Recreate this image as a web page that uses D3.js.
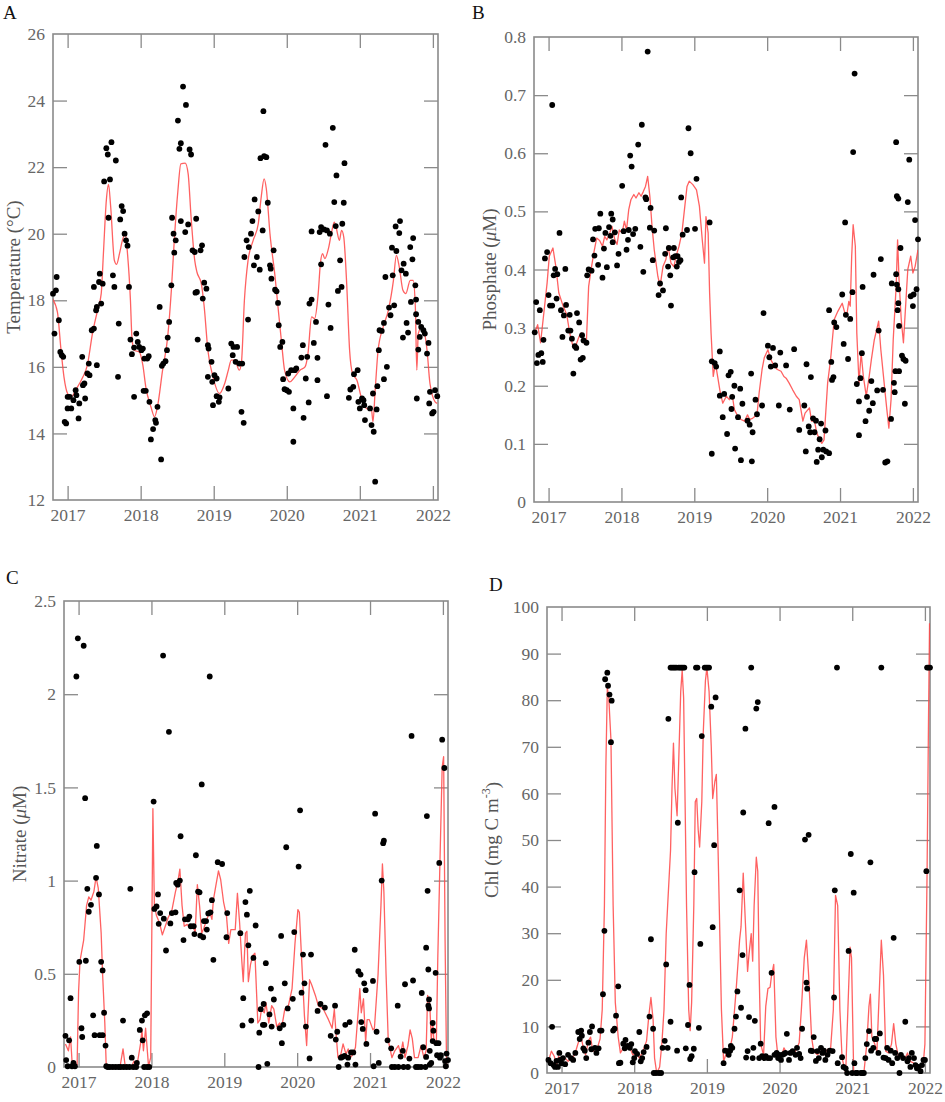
<!DOCTYPE html>
<html>
<head>
<meta charset="utf-8">
<script src="https://cdn.jsdelivr.net/npm/d3@7"></script>
<style>
  body { margin: 0; background: #fff; }
  svg { display: block; font-family: "Liberation Serif", "Times New Roman", serif; }
  .tick text { fill: #666; font-size: 17.5px; font-family: "Liberation Serif", serif; }
  .tick line { stroke: #8a8a8a; stroke-width: 1.3; }
</style>
</head>
<body>
<svg id="chart" width="945" height="1102"></svg>
<script>
// time axis (decimal years)
const yearTicks = [2017, 2018, 2019, 2020, 2021, 2022];
const xDomain = [2016.80, 2022.07];

// A: temperature samples and smoothed curve
const tempPts = [
  [2016.80,18.2],[2016.84,18.3],[2016.85,18.7],[2016.82,17.0],[2016.88,17.4],[2016.90,16.45],[2016.92,16.35],[2016.94,16.3],
  [2016.96,14.35],[2016.98,14.3],[2017.00,15.1],[2017.00,14.75],[2017.03,15.1],[2017.05,14.75],[2017.08,15.0],[2017.11,15.3],
  [2017.12,15.15],[2017.15,14.45],[2017.16,14.9],[2017.20,16.3],[2017.21,15.45],[2017.23,15.5],[2017.24,15.05],[2017.27,15.8],
  [2017.29,16.1],[2017.30,15.75],[2017.33,17.1],[2017.36,17.15],[2017.36,18.4],[2017.39,17.7],[2017.40,17.8],[2017.40,16.05],
  [2017.43,18.55],[2017.44,18.8],[2017.46,17.9],[2017.48,18.5],[2017.50,21.57],[2017.53,22.57],[2017.55,22.38],[2017.58,21.63],
  [2017.56,20.48],[2017.60,22.75],[2017.62,18.75],[2017.64,18.4],[2017.66,22.2],[2017.69,15.7],[2017.70,17.3],[2017.72,20.43],
  [2017.74,20.83],[2017.76,20.68],[2017.78,20.0],[2017.80,19.8],[2017.82,19.64],[2017.84,18.4],[2017.86,16.82],[2017.88,16.38],
  [2017.91,16.58],[2017.91,15.1],[2017.94,17.0],[2017.96,16.75],[2017.98,16.6],[2018.01,16.5],[2018.03,16.55],[2018.05,16.25],
  [2018.04,15.28],[2018.07,15.28],[2018.09,16.25],[2018.11,16.32],[2018.12,14.95],[2018.14,13.82],[2018.17,14.13],[2018.20,14.4],
  [2018.21,14.32],[2018.23,14.8],[2018.26,17.8],[2018.28,13.22],[2018.29,16.03],[2018.31,16.1],[2018.34,16.17],[2018.36,16.5],
  [2018.37,16.88],[2018.39,17.35],[2018.42,18.45],[2018.43,20.48],[2018.45,20.0],[2018.46,19.43],[2018.48,19.8],[2018.51,23.4],
  [2018.53,22.55],[2018.55,22.72],[2018.55,20.38],[2018.58,24.42],[2018.62,23.87],[2018.61,20.05],[2018.65,20.28],[2018.67,22.53],
  [2018.69,22.38],[2018.71,19.5],[2018.74,19.45],[2018.75,18.23],[2018.77,18.25],[2018.76,20.45],[2018.78,16.82],[2018.82,19.5],
  [2018.84,19.65],[2018.85,18.05],[2018.87,18.53],[2018.90,18.35],[2018.92,16.65],[2018.93,16.55],[2018.92,15.7],[2018.97,16.15],
  [2018.98,15.55],[2018.99,14.85],[2019.01,15.75],[2019.04,15.65],[2019.04,15.12],[2019.07,14.95],[2019.08,15.08],[2019.20,15.35],
  [2019.24,16.7],[2019.26,16.35],[2019.27,16.6],[2019.30,16.15],[2019.32,16.6],[2019.35,16.1],[2019.39,16.1],[2019.38,14.65],
  [2019.41,14.32],[2019.42,19.3],[2019.45,19.8],[2019.47,17.42],[2019.48,19.6],[2019.51,20.0],[2019.53,20.38],[2019.55,19.05],
  [2019.56,21.03],[2019.59,19.3],[2019.61,20.67],[2019.63,18.92],[2019.64,22.27],[2019.67,20.1],[2019.68,23.68],[2019.69,22.33],
  [2019.72,22.3],[2019.74,20.93],[2019.77,19.05],[2019.78,18.95],[2019.79,18.65],[2019.82,19.5],[2019.84,18.32],[2019.86,18.27],
  [2019.88,17.92],[2019.89,17.25],[2019.91,16.6],[2019.94,16.75],[2019.95,15.63],[2019.97,15.33],[2020.00,15.3],[2020.03,15.25],
  [2020.02,15.8],[2020.06,15.9],[2020.09,14.75],[2020.11,15.9],[2020.13,15.95],[2020.09,13.75],[2020.20,16.28],[2020.22,16.65],
  [2020.23,14.47],[2020.26,15.65],[2020.28,16.3],[2020.30,14.93],[2020.31,17.9],[2020.34,18.02],[2020.34,20.07],[2020.37,16.72],
  [2020.40,17.35],[2020.42,16.27],[2020.42,15.6],[2020.45,20.05],[2020.47,20.2],[2020.51,20.13],[2020.55,20.1],[2020.59,20.0],
  [2020.47,19.08],[2020.53,22.67],[2020.55,15.12],[2020.57,17.87],[2020.60,17.17],[2020.63,23.18],[2020.65,20.95],[2020.67,20.23],
  [2020.68,21.75],[2020.70,18.28],[2020.73,19.2],[2020.75,18.4],[2020.76,20.3],[2020.78,20.93],[2020.79,22.12],[2020.85,15.07],
  [2020.87,15.32],[2020.91,15.4],[2020.92,15.78],[2020.97,15.9],[2020.98,14.95],[2021.00,14.75],[2021.03,15.05],[2021.05,15.0],
  [2021.06,14.85],[2021.07,14.4],[2021.14,14.75],[2021.16,14.25],[2021.18,15.2],[2021.19,14.05],[2021.21,12.55],[2021.23,14.72],
  [2021.24,15.42],[2021.26,16.5],[2021.27,17.1],[2021.30,17.08],[2021.33,17.32],[2021.33,15.63],[2021.35,18.7],[2021.37,16.0],
  [2021.40,17.78],[2021.42,17.55],[2021.44,19.58],[2021.45,18.75],[2021.47,17.85],[2021.49,20.22],[2021.50,19.48],[2021.54,20.02],
  [2021.55,20.38],[2021.57,18.9],[2021.59,16.88],[2021.60,19.1],[2021.63,18.8],[2021.64,17.32],[2021.66,17.03],[2021.69,19.6],
  [2021.70,17.95],[2021.72,19.23],[2021.73,19.87],[2021.76,18.45],[2021.77,18.02],[2021.77,17.58],[2021.78,15.05],[2021.80,16.52],
  [2021.80,17.35],[2021.82,16.9],[2021.84,17.2],[2021.87,17.1],[2021.89,17.0],[2021.92,16.4],[2021.94,16.72],[2021.96,15.25],
  [2021.95,14.9],[2021.99,14.6],[2022.01,14.65],[2022.03,15.3],[2022.06,15.12]
];
const tempLine = [
  [2016.79,18.05],[2016.86,17.65],[2016.91,16.5],[2016.95,15.7],[2017.00,15.2],[2017.05,15.1],[2017.11,15.3],[2017.21,15.7],
  [2017.27,16.05],[2017.34,17.0],[2017.41,17.7],[2017.46,18.2],[2017.49,19.4],[2017.53,21.0],[2017.56,21.48],[2017.59,20.8],
  [2017.64,19.2],[2017.67,19.08],[2017.71,19.4],[2017.75,19.8],[2017.79,20.0],[2017.82,19.4],[2017.86,18.0],[2017.88,16.9],
  [2017.91,16.5],[2017.98,16.45],[2018.03,16.05],[2018.07,15.4],[2018.14,14.8],[2018.19,14.5],[2018.23,14.8],[2018.30,15.9],
  [2018.37,16.9],[2018.42,18.3],[2018.46,19.8],[2018.51,21.3],[2018.55,22.1],[2018.61,22.12],[2018.65,21.8],[2018.69,20.5],
  [2018.74,19.2],[2018.77,18.85],[2018.83,18.5],[2018.87,17.8],[2018.92,16.5],[2018.99,15.7],[2019.08,15.2],[2019.15,15.5],
  [2019.20,15.9],[2019.24,16.2],[2019.29,16.2],[2019.35,15.9],[2019.38,16.15],[2019.42,18.0],[2019.47,19.2],[2019.54,19.8],
  [2019.61,20.3],[2019.65,21.1],[2019.69,21.65],[2019.72,21.35],[2019.77,20.0],[2019.84,18.7],[2019.88,17.8],[2019.93,16.7],
  [2019.97,15.9],[2020.04,15.55],[2020.11,15.7],[2020.18,15.9],[2020.25,16.0],[2020.29,16.4],[2020.34,17.5],[2020.38,17.45],
  [2020.43,18.2],[2020.46,19.1],[2020.49,19.4],[2020.52,19.25],[2020.57,19.55],[2020.61,20.0],[2020.65,20.35],[2020.68,20.15],
  [2020.72,19.8],[2020.75,20.1],[2020.78,19.9],[2020.82,18.5],[2020.86,16.5],[2020.90,15.8],[2020.96,15.6],[2021.03,15.0],
  [2021.09,14.75],[2021.16,14.7],[2021.18,14.35],[2021.21,15.3],[2021.25,16.5],[2021.32,17.2],[2021.39,17.7],[2021.46,18.6],
  [2021.50,19.35],[2021.54,19.0],[2021.59,18.3],[2021.63,18.2],[2021.69,18.6],[2021.73,18.6],[2021.76,17.8],[2021.78,15.9],
  [2021.80,17.0],[2021.85,17.2],[2021.92,16.5],[2021.96,15.5],[2022.03,14.95],[2022.06,14.9]
];

// B: phosphate
const phosPts = [
  [2016.81,0.292],[2016.83,0.344],[2016.84,0.239],[2016.88,0.33],[2016.86,0.253],[2016.90,0.256],[2016.92,0.241],[2016.93,0.279],
  [2016.95,0.419],[2016.98,0.43],[2017.00,0.356],[2017.02,0.338],[2017.05,0.338],[2017.05,0.683],[2017.07,0.39],[2017.09,0.401],
  [2017.12,0.392],[2017.11,0.35],[2017.15,0.463],[2017.17,0.33],[2017.19,0.284],[2017.21,0.321],[2017.23,0.401],[2017.24,0.339],
  [2017.27,0.295],[2017.29,0.322],[2017.30,0.295],[2017.32,0.281],[2017.34,0.221],[2017.36,0.268],[2017.38,0.265],[2017.39,0.325],
  [2017.42,0.309],[2017.44,0.245],[2017.47,0.248],[2017.46,0.287],[2017.48,0.278],[2017.52,0.274],[2017.53,0.39],[2017.55,0.4],
  [2017.59,0.398],[2017.61,0.452],[2017.63,0.424],[2017.64,0.47],[2017.68,0.408],[2017.69,0.471],[2017.71,0.496],[2017.74,0.386],
  [2017.76,0.436],[2017.78,0.463],[2017.80,0.404],[2017.83,0.473],[2017.85,0.458],[2017.86,0.496],[2017.88,0.486],[2017.88,0.447],
  [2017.91,0.464],[2017.94,0.407],[2017.96,0.427],[2018.01,0.544],[2018.03,0.466],[2018.07,0.434],[2018.09,0.451],[2018.10,0.468],
  [2018.12,0.596],[2018.14,0.577],[2018.16,0.461],[2018.19,0.47],[2018.23,0.615],[2018.26,0.439],[2018.28,0.649],[2018.30,0.396],
  [2018.33,0.524],[2018.34,0.521],[2018.36,0.775],[2018.39,0.472],[2018.40,0.506],[2018.43,0.416],[2018.45,0.467],[2018.51,0.356],
  [2018.53,0.376],[2018.57,0.364],[2018.60,0.427],[2018.61,0.471],[2018.64,0.405],[2018.65,0.437],[2018.67,0.39],[2018.68,0.338],
  [2018.71,0.421],[2018.72,0.437],[2018.74,0.423],[2018.76,0.405],[2018.77,0.423],[2018.79,0.413],[2018.81,0.416],[2018.82,0.524],
  [2018.84,0.46],[2018.90,0.468],[2018.92,0.643],[2018.95,0.6],[2019.01,0.47],[2019.03,0.556],
  [2019.21,0.481],[2019.24,0.083],[2019.24,0.242],[2019.28,0.239],[2019.30,0.233],[2019.35,0.259],[2019.35,0.183],[2019.41,0.186],
  [2019.39,0.146],[2019.45,0.117],[2019.47,0.218],[2019.50,0.224],[2019.52,0.181],[2019.51,0.16],[2019.55,0.2],[2019.56,0.092],
  [2019.60,0.146],[2019.63,0.195],[2019.64,0.072],[2019.66,0.169],[2019.73,0.14],[2019.76,0.133],[2019.78,0.221],[2019.80,0.12],
  [2019.79,0.07],[2019.84,0.176],[2019.86,0.151],[2019.93,0.166],[2019.95,0.325],[2020.01,0.269],[2020.03,0.249],[2020.05,0.233],
  [2020.08,0.265],[2020.11,0.235],[2020.16,0.166],[2020.18,0.257],[2020.26,0.235],[2020.31,0.159],[2020.37,0.263],[2020.44,0.124],
  [2020.51,0.166],[2020.53,0.087],[2020.54,0.237],[2020.57,0.13],[2020.59,0.12],[2020.60,0.215],[2020.63,0.144],[2020.65,0.12],
  [2020.67,0.14],[2020.68,0.069],[2020.70,0.09],[2020.72,0.108],[2020.74,0.135],[2020.75,0.077],[2020.77,0.09],[2020.80,0.123],
  [2020.81,0.087],[2020.85,0.084],[2020.85,0.33],[2020.88,0.241],[2020.89,0.21],[2020.91,0.215],[2020.92,0.309],[2020.95,0.301],
  [2021.03,0.357],[2021.05,0.272],[2021.07,0.481],[2021.08,0.322],[2021.11,0.246],[2021.14,0.315],[2021.17,0.361],[2021.18,0.602],
  [2021.20,0.737],[2021.23,0.203],[2021.26,0.173],[2021.26,0.115],[2021.28,0.213],[2021.30,0.256],[2021.31,0.37],[2021.35,0.139],
  [2021.37,0.181],[2021.40,0.157],[2021.43,0.208],[2021.45,0.17],[2021.46,0.391],[2021.51,0.192],[2021.53,0.295],[2021.56,0.418],
  [2021.59,0.193],[2021.62,0.068],[2021.65,0.07],[2021.70,0.143],[2021.71,0.376],[2021.74,0.205],[2021.75,0.189],[2021.76,0.225],
  [2021.77,0.619],[2021.77,0.392],[2021.78,0.374],[2021.78,0.526],[2021.80,0.522],[2021.79,0.33],[2021.80,0.366],[2021.80,0.342],
  [2021.81,0.303],[2021.81,0.225],[2021.83,0.437],[2021.85,0.252],[2021.87,0.246],[2021.89,0.169],[2021.90,0.243],[2021.93,0.516],
  [2021.95,0.589],[2021.97,0.354],[2022.00,0.337],[2022.01,0.357],[2022.03,0.485],[2022.05,0.366],[2022.07,0.452]
];
const phosLine = [
  [2016.81,0.291],[2016.85,0.305],[2016.89,0.274],[2016.92,0.308],[2016.98,0.377],[2017.01,0.423],[2017.06,0.437],[2017.10,0.405],
  [2017.14,0.36],[2017.20,0.337],[2017.25,0.322],[2017.29,0.291],[2017.33,0.27],[2017.37,0.268],[2017.42,0.285],[2017.45,0.291],
  [2017.48,0.274],[2017.52,0.279],[2017.55,0.371],[2017.59,0.405],[2017.62,0.428],[2017.66,0.454],[2017.70,0.45],[2017.74,0.44],
  [2017.77,0.457],[2017.80,0.451],[2017.84,0.463],[2017.87,0.474],[2017.91,0.451],[2017.94,0.443],[2017.97,0.468],[2018.01,0.463],
  [2018.04,0.483],[2018.07,0.468],[2018.10,0.503],[2018.13,0.52],[2018.17,0.529],[2018.20,0.523],[2018.24,0.532],[2018.27,0.526],
  [2018.30,0.534],[2018.33,0.543],[2018.36,0.56],[2018.39,0.526],[2018.42,0.474],[2018.45,0.434],[2018.50,0.388],[2018.53,0.371],
  [2018.57,0.405],[2018.61,0.417],[2018.64,0.44],[2018.68,0.411],[2018.72,0.405],[2018.75,0.423],[2018.79,0.44],[2018.83,0.463],
  [2018.87,0.509],[2018.90,0.543],[2018.93,0.552],[2018.98,0.546],[2019.03,0.537],[2019.07,0.509],[2019.11,0.45],[2019.14,0.411],
  [2019.16,0.491],[2019.19,0.463],[2019.21,0.36],[2019.23,0.291],[2019.26,0.216],[2019.29,0.239],[2019.32,0.216],[2019.35,0.193],
  [2019.39,0.17],[2019.44,0.182],[2019.48,0.176],[2019.52,0.185],[2019.55,0.159],[2019.60,0.147],[2019.64,0.142],[2019.69,0.139],
  [2019.73,0.15],[2019.76,0.142],[2019.80,0.144],[2019.86,0.15],[2019.89,0.188],[2019.93,0.228],[2019.96,0.248],[2020.01,0.262],
  [2020.05,0.245],[2020.10,0.233],[2020.14,0.228],[2020.19,0.225],[2020.23,0.216],[2020.26,0.213],[2020.30,0.205],[2020.35,0.193],
  [2020.40,0.182],[2020.44,0.176],[2020.49,0.139],[2020.52,0.153],[2020.58,0.162],[2020.61,0.139],[2020.65,0.139],[2020.68,0.119],
  [2020.72,0.107],[2020.75,0.101],[2020.78,0.107],[2020.83,0.205],[2020.87,0.245],[2020.92,0.314],[2020.97,0.328],[2021.03,0.342],
  [2021.06,0.328],[2021.09,0.319],[2021.12,0.345],[2021.14,0.337],[2021.16,0.423],[2021.18,0.477],[2021.21,0.44],[2021.23,0.291],
  [2021.26,0.205],[2021.29,0.256],[2021.32,0.216],[2021.36,0.182],[2021.40,0.216],[2021.43,0.245],[2021.47,0.279],[2021.53,0.311],
  [2021.56,0.262],[2021.61,0.199],[2021.64,0.162],[2021.67,0.127],[2021.70,0.176],[2021.73,0.279],[2021.77,0.371],[2021.79,0.451],
  [2021.81,0.382],[2021.84,0.314],[2021.87,0.274],[2021.90,0.337],[2021.93,0.4],[2021.97,0.423],[2022.00,0.394],[2022.03,0.405],
  [2022.07,0.434]
];

// C: nitrate
const nitPts = [
  [2016.82,0.167],[2016.83,0.037],[2016.85,0.004],[2016.87,0.143],[2016.89,0.369],[2016.91,0.004],[2016.93,0.022],[2016.95,0.004],
  [2016.97,2.095],[2016.99,2.3],[2017.07,2.26],[2017.01,0.564],[2017.04,0.208],[2017.05,0.161],[2017.09,1.442],[2017.10,0.57],
  [2017.12,0.956],[2017.14,0.833],[2017.17,0.87],[2017.20,0.277],[2017.22,0.171],[2017.24,1.015],[2017.25,1.186],[2017.28,0.926],
  [2017.29,0.171],[2017.31,0.564],[2017.33,0.518],[2017.33,0.171],[2017.35,0.291],[2017.37,0.115],[2017.38,0.004],
  [2017.40,0],[2017.43,0],[2017.47,0],[2017.51,0],[2017.55,0],[2017.58,0],[2017.62,0],[2017.66,0],[2017.70,0],[2017.75,0],[2017.79,0],
  [2017.61,0.249],[2017.71,0.956],[2017.73,0.05],[2017.80,0.022],[2017.84,0.199],[2017.87,0.249],[2017.88,0.143],[2017.91,0.277],
  [2017.94,0.288],[2017.90,0],[2017.94,0],[2017.97,0],[2018.03,1.424],[2018.04,0.848],[2018.07,0.861],[2018.09,0.926],
  [2018.10,0.768],[2018.12,0.826],[2018.16,2.207],[2018.17,0.796],[2018.20,0.625],[2018.24,1.798],[2018.26,0.77],[2018.28,0.826],
  [2018.33,0.83],[2018.34,0.987],[2018.36,0.978],[2018.39,1.0],[2018.40,1.238],[2018.44,0.681],[2018.46,0.792],[2018.50,0.792],
  [2018.52,0.807],[2018.54,0.755],[2018.58,0.755],[2018.59,0.713],[2018.61,1.136],[2018.64,0.941],[2018.66,0.937],[2018.67,0.705],
  [2018.69,1.516],[2018.71,0.696],[2018.72,0.783],[2018.75,0.783],[2018.76,0.737],[2018.78,0.824],[2018.81,0.83],[2018.83,0.895],
  [2018.85,0.575],[2018.80,2.095],[2018.91,1.099],[2018.97,1.089],[2019.03,0.696],[2019.04,0.826],
  [2019.22,0.718],[2019.25,0.223],[2019.26,0.369],[2019.29,0.885],[2019.31,0.817],[2019.33,0.653],[2019.35,0.945],[2019.37,0.249],
  [2019.40,0.585],[2019.43,0.759],[2019.47,0.0],[2019.48,0.184],[2019.50,0.31],[2019.53,0.226],[2019.54,0.338],[2019.55,0.226],
  [2019.57,0.557],[2019.59,0.017],[2019.62,0.282],[2019.64,0.421],[2019.65,0.217],[2019.68,0.362],[2019.76,0.208],[2019.78,0.703],
  [2019.79,0.128],[2019.81,0.226],[2019.83,0.449],[2019.85,1.179],[2019.87,0.314],[2019.94,0.366],[2019.96,0.724],[2020.02,1.075],
  [2020.04,1.377],[2020.06,0.399],[2020.08,0.603],[2020.10,0.449],[2020.12,0.217],[2020.17,0.046],[2020.19,0.603],[2020.28,0.301],
  [2020.32,0.338],[2020.38,0.319],[2020.46,0.167],[2020.52,0.329],[2020.53,0.147],[2020.55,0.189],[2020.57,0.0],[2020.60,0.05],
  [2020.62,0.054],[2020.65,0.059],[2020.66,0.226],[2020.69,0.013],[2020.70,0.05],[2020.72,0.241],[2020.74,0.078],[2020.77,0.078],
  [2020.79,0.629],[2020.80,0.013],[2020.84,0.514],[2020.87,0.496],[2020.88,0.241],[2020.90,0.204],[2020.92,0.449],[2020.94,0.412],
  [2020.95,0.124],[2021.04,0.462],[2021.05,0.004],[2021.07,1.359],[2021.09,0.189],[2021.12,0.022],[2021.16,1.0],[2021.18,1.201],
  [2021.19,1.214],[2021.24,0.143],[2021.29,0.1],[2021.30,0.0],[2021.34,0.0],[2021.38,0.329],[2021.39,0.0],[2021.42,0.056],
  [2021.45,0.087],[2021.46,0.0],[2021.48,0.444],[2021.52,0.0],[2021.54,0.045],[2021.57,1.776],[2021.59,0.464],[2021.63,0.0],
  [2021.66,0.0],[2021.70,0.0],[2021.71,0.397],[2021.73,0.106],[2021.76,0.0],[2021.77,0.64],[2021.77,0.054],[2021.78,1.346],
  [2021.79,0.945],[2021.80,0.523],[2021.80,0.329],[2021.81,0.314],[2021.81,0.362],[2021.82,0.087],[2021.82,0.013],[2021.84,0.022],
  [2021.86,0.236],[2021.86,0.139],[2021.87,0.195],[2021.90,0.505],[2021.91,0.128],[2021.94,0.128],[2021.95,1.095],[2021.92,0.063],
  [2021.96,0.05],[2021.97,0.063],[2021.99,1.756],[2022.02,1.604],[2022.03,0.032],[2022.04,0.004],[2022.05,0.072],[2022.07,0.037]
];
const nitLine = [
  [2016.82,0.124],[2016.86,0.087],[2016.89,0.161],[2016.91,0.032],[2016.93,0.013],[2016.95,0.004],[2016.98,0.013],[2017.00,0.403],
  [2017.02,0.57],[2017.07,0.681],[2017.11,0.867],[2017.14,0.913],[2017.17,0.895],[2017.21,0.941],[2017.24,1.019],[2017.27,0.96],
  [2017.31,0.718],[2017.33,0.496],[2017.36,0.236],[2017.38,0.004],[2017.57,0.004],[2017.61,0.097],[2017.64,0.004],[2017.73,0.004],
  [2017.76,0.032],[2017.80,0.004],[2017.85,0.124],[2017.87,0.199],[2017.89,0.087],[2017.92,0.208],[2017.96,0.004],[2017.99,0.05],
  [2018.02,1.386],[2018.04,0.867],[2018.07,0.811],[2018.11,0.774],[2018.15,0.709],[2018.19,0.755],[2018.23,0.802],[2018.28,0.839],
  [2018.33,0.941],[2018.36,0.987],[2018.39,1.062],[2018.42,0.867],[2018.45,0.755],[2018.49,0.765],[2018.53,0.746],[2018.57,0.765],
  [2018.60,0.718],[2018.63,0.978],[2018.66,0.867],[2018.69,0.718],[2018.72,0.746],[2018.76,0.792],[2018.80,0.83],[2018.83,0.792],
  [2018.85,0.895],[2018.89,0.987],[2018.92,1.052],[2018.95,1.006],[2018.99,0.885],[2019.03,0.811],[2019.06,0.663],[2019.09,0.737],
  [2019.15,0.737],[2019.18,0.932],[2019.21,0.774],[2019.24,0.57],[2019.26,0.458],[2019.29,0.718],[2019.31,0.728],[2019.33,0.458],
  [2019.36,0.551],[2019.39,0.598],[2019.42,0.611],[2019.46,0.236],[2019.49,0.254],[2019.51,0.31],[2019.55,0.291],[2019.57,0.347],
  [2019.61,0.236],[2019.65,0.329],[2019.68,0.31],[2019.72,0.217],[2019.76,0.236],[2019.79,0.217],[2019.83,0.31],[2019.88,0.329],
  [2019.93,0.421],[2019.97,0.663],[2020.01,0.844],[2020.03,0.83],[2020.06,0.588],[2020.10,0.273],[2020.13,0.115],[2020.17,0.468],
  [2020.20,0.44],[2020.25,0.384],[2020.29,0.329],[2020.36,0.31],[2020.43,0.254],[2020.48,0.208],[2020.51,0.31],[2020.53,0.199],
  [2020.56,0.05],[2020.60,0.069],[2020.63,0.124],[2020.67,0.069],[2020.70,0.097],[2020.73,0.05],[2020.77,0.069],[2020.80,0.106],
  [2020.84,0.31],[2020.86,0.421],[2020.88,0.291],[2020.91,0.366],[2020.94,0.134],[2020.96,0.254],[2020.99,0.254],[2021.04,0.199],
  [2021.06,0.208],[2021.11,0.496],[2021.15,0.867],[2021.17,1.089],[2021.19,0.941],[2021.22,0.496],[2021.25,0.143],[2021.30,0.05],
  [2021.34,0.087],[2021.39,0.115],[2021.42,0.069],[2021.45,0.134],[2021.48,0.05],[2021.52,0.115],[2021.55,0.199],[2021.58,0.152],
  [2021.61,0.05],[2021.66,0.05],[2021.70,0.115],[2021.74,0.05],[2021.77,0.087],[2021.79,0.384],[2021.82,0.338],[2021.84,0.143],
  [2021.86,0.236],[2021.88,0.124],[2021.91,0.124],[2021.93,0.588],[2021.96,1.108],[2021.99,1.609],[2022.01,1.665],[2022.03,0.681],
  [2022.05,0.013],[2022.07,0.004]
];

// D: chlorophyll
const chlPts = [
  [2016.82,2.8],[2016.85,2.1],[2016.87,9.9],[2016.89,1.7],[2016.91,1.3],[2016.93,2.6],[2016.95,1.3],[2016.97,4.3],[2016.98,2.8],
  [2017.00,2.1],[2017.02,3.2],[2017.05,1.9],[2017.09,3.9],[2017.13,3.2],[2017.16,2.8],[2017.19,4.3],[2017.23,8.8],[2017.25,7.3],
  [2017.27,9.1],[2017.28,8.0],[2017.30,5.3],[2017.32,4.8],[2017.34,3.2],[2017.37,6.5],[2017.39,8.8],[2017.41,5.1],[2017.42,10.0],
  [2017.46,5.4],[2017.48,4.3],[2017.51,5.3],[2017.53,9.1],[2017.55,9.1],[2017.57,16.9],[2017.59,30.5],[2017.60,84.5],[2017.63,85.9],
  [2017.64,83.1],[2017.66,81.2],[2017.69,79.9],[2017.68,71.0],[2017.71,9.1],[2017.73,9.5],[2017.75,12.3],[2017.78,18.6],[2017.79,2.1],
  [2017.81,2.2],[2017.85,6.3],[2017.87,5.3],[2017.88,7.1],[2017.91,5.8],[2017.94,5.4],[2017.96,6.2],[2017.98,2.3],[2018.00,3.2],
  [2018.01,4.7],[2018.04,4.1],[2018.07,8.8],[2018.09,2.5],[2018.11,3.2],[2018.13,4.5],[2018.17,5.6],[2018.21,12.1],[2018.23,28.7],
  [2018.26,9.5],[2018.27,0],[2018.30,0],[2018.34,0],[2018.37,0],[2018.39,5.4],[2018.42,6.9],[2018.44,23.3],[2018.46,5.4],[2018.47,76.0],
  [2018.50,11.0],[2018.50,87],[2018.52,87],[2018.54,87],[2018.56,87],[2018.58,87],[2018.61,87],[2018.63,87],[2018.65,87],[2018.67,87],
  [2018.69,87],[2018.59,4.8],[2018.60,53.7],[2018.71,5.3],[2018.74,10.3],[2018.76,18.9],[2018.77,3.0],[2018.79,3.6],[2018.82,5.2],
  [2018.83,43.1],[2018.85,87],[2018.87,87],[2018.89,9.7],[2018.91,27.7],[2018.93,72.3],[2018.97,87],[2018.99,87],[2019.01,87],
  [2019.03,87],[2019.06,78.6],[2019.12,80.6],[2019.08,31.3],[2019.10,48.9],[2019.23,2.1],[2019.25,4.8],[2019.28,4.7],[2019.30,3.9],
  [2019.32,4.8],[2019.33,5.8],[2019.35,5.4],[2019.38,9.5],[2019.40,12.1],[2019.42,17.5],[2019.45,39.2],[2019.47,14.0],[2019.49,25.3],
  [2019.50,55.9],[2019.53,73.9],[2019.54,3.3],[2019.56,4.7],[2019.58,12.0],[2019.61,87],[2019.63,3.2],[2019.64,5.4],[2019.66,11.2],
  [2019.68,78.2],[2019.70,79.6],[2019.72,3.2],[2019.74,6.3],[2019.76,3.6],[2019.79,3.2],[2019.81,3.6],[2019.84,3.2],[2019.85,53.6],
  [2019.87,3.2],[2019.89,21.5],[2019.93,57.1],[2019.93,3.9],[2019.96,4.3],[2019.98,3.2],[2020.00,3.9],[2020.02,2.8],[2020.04,3.9],
  [2020.06,4.1],[2020.08,4.3],[2020.10,8.4],[2020.13,2.8],[2020.15,4.3],[2020.18,4.7],[2020.22,3.9],[2020.24,5.4],[2020.27,4.1],
  [2020.29,3.2],[2020.31,9.5],[2020.35,50.1],[2020.37,19.4],[2020.38,18.1],[2020.40,51.1],[2020.43,4.8],[2020.45,4.7],[2020.47,7.7],
  [2020.50,2.6],[2020.52,4.7],[2020.54,3.2],[2020.57,5.4],[2020.59,4.3],[2020.61,4.8],[2020.63,2.8],[2020.66,3.9],[2020.69,4.8],
  [2020.73,4.7],[2020.75,16.2],[2020.76,39.2],[2020.79,87],[2020.80,2.1],[2020.86,3.4],[2020.88,1.3],[2020.91,1.0],[2020.93,0],
  [2020.95,26.2],[2020.98,47.0],[2021.00,0],[2021.02,38.7],[2021.03,2.1],[2021.05,0],[2021.07,0],[2021.12,0],[2021.14,0],[2021.16,0],
  [2021.18,3.2],[2021.20,6.2],[2021.23,9.0],[2021.25,45.2],[2021.26,4.8],[2021.29,5.4],[2021.31,7.3],[2021.33,7.3],[2021.36,4.3],
  [2021.38,8.5],[2021.40,87],[2021.43,3.3],[2021.46,3.2],[2021.48,5.4],[2021.50,2.8],[2021.53,4.8],[2021.55,2.1],[2021.57,29.0],
  [2021.59,4.3],[2021.62,3.2],[2021.65,0],[2021.67,3.9],[2021.70,3.2],[2021.73,11.0],[2021.76,2.5],[2021.78,3.2],[2021.80,1.3],
  [2021.82,4.3],[2021.85,3.2],[2021.87,1.7],[2021.89,1.0],[2021.91,1.3],[2021.94,0.4],[2021.96,1.7],[2021.98,2.8],[2022.00,2.8],
  [2022.02,43.3],[2022.03,87],[2022.05,87],[2022.07,87]
];
const chlLine = [
  [2016.82,2.5],[2016.86,4.7],[2016.90,3.6],[2016.93,1.7],[2016.96,3.6],[2017.00,2.6],[2017.05,3.2],[2017.09,2.5],[2017.14,3.2],
  [2017.18,3.9],[2017.23,6.5],[2017.27,7.7],[2017.30,5.4],[2017.33,3.9],[2017.37,6.9],[2017.40,7.7],[2017.43,4.7],[2017.48,4.7],
  [2017.53,7.3],[2017.56,13.6],[2017.59,35.9],[2017.61,65.6],[2017.63,82.7],[2017.65,80.5],[2017.68,71.5],[2017.71,35.9],
  [2017.74,15.1],[2017.78,7.7],[2017.81,4.3],[2017.85,5.4],[2017.89,6.2],[2017.94,5.4],[2017.98,3.9],[2018.03,4.3],[2018.07,3.2],
  [2018.12,4.7],[2018.17,6.9],[2018.20,12.1],[2018.23,16.2],[2018.26,11.4],[2018.28,3.2],[2018.31,0],[2018.35,1.3],[2018.38,6.2],
  [2018.41,13.6],[2018.44,29.9],[2018.46,35.9],[2018.50,47.8],[2018.52,61.1],[2018.54,70.8],[2018.56,61.1],[2018.59,55.2],
  [2018.61,65.6],[2018.64,81.9],[2018.66,86.4],[2018.68,80.5],[2018.70,58.2],[2018.72,35.9],[2018.75,13.6],[2018.77,9.1],
  [2018.79,15.1],[2018.82,35.9],[2018.84,58.2],[2018.86,58.9],[2018.88,52.2],[2018.90,48.5],[2018.93,58.2],[2018.95,73.0],
  [2018.98,84.2],[2019.00,87.0],[2019.03,81.9],[2019.06,70.1],[2019.08,58.9],[2019.11,62.6],[2019.13,64.1],[2019.15,50.7],
  [2019.17,35.9],[2019.20,13.6],[2019.23,2.5],[2019.26,3.9],[2019.31,4.7],[2019.35,7.7],[2019.40,17.3],[2019.45,28.5],[2019.47,31.4],
  [2019.50,42.9],[2019.53,32.2],[2019.56,21.8],[2019.58,25.5],[2019.61,29.9],[2019.63,24.0],[2019.65,35.9],[2019.68,46.3],
  [2019.70,43.3],[2019.72,21.0],[2019.74,6.2],[2019.78,3.9],[2019.81,14.3],[2019.84,18.1],[2019.87,18.4],[2019.89,21.0],
  [2019.92,23.3],[2019.95,7.7],[2019.98,3.2],[2020.02,3.2],[2020.06,5.4],[2020.10,4.3],[2020.15,3.9],[2020.22,4.7],[2020.27,6.5],
  [2020.30,13.6],[2020.34,24.7],[2020.37,28.5],[2020.40,21.0],[2020.44,7.7],[2020.47,4.7],[2020.52,3.9],[2020.57,4.7],[2020.61,3.9],
  [2020.66,5.1],[2020.70,4.7],[2020.74,13.6],[2020.77,38.1],[2020.80,35.9],[2020.83,13.6],[2020.86,3.2],[2020.91,0],[2020.94,13.6],
  [2020.97,27.0],[2020.99,24.7],[2021.02,0],[2021.16,0],[2021.20,6.2],[2021.23,14.3],[2021.25,16.9],[2021.27,7.7],[2021.31,6.2],
  [2021.34,4.7],[2021.37,16.6],[2021.40,28.5],[2021.43,21.0],[2021.46,4.7],[2021.50,4.3],[2021.54,6.2],[2021.57,10.6],[2021.60,6.2],
  [2021.64,3.2],[2021.69,3.2],[2021.73,3.2],[2021.76,4.3],[2021.80,2.5],[2021.85,2.1],[2021.89,1.0],[2021.94,1.0],[2021.98,2.5],
  [2022.00,6.2],[2022.03,43.3],[2022.05,76.7],[2022.064,96.5]
];

// tick values per panel
const tempTicks = [12, 14, 16, 18, 20, 22, 24, 26];
const phosTicks = [0, 0.1, 0.2, 0.3, 0.4, 0.5, 0.6, 0.7, 0.8];
const nitTicks = [0, 0.5, 1, 1.5, 2, 2.5];
const chlTicks = [0, 10, 20, 30, 40, 50, 60, 70, 80, 90, 100];

const svg = d3.select("#chart");
svg.append("rect").attr("width", 945).attr("height", 1102).attr("fill", "#fff");

const panels = [
  { letter: "A", pts: tempPts, line: tempLine, yDomain: [12, 26], yTicks: tempTicks, curve: d3.curveMonotoneX,
    left: 53, top: 34, w: 385, h: 466, letterPos: [3, 19], titleX: 13, title: ["Temperature (°C)"] },
  { letter: "B", pts: phosPts, line: phosLine, yDomain: [0, 0.8], yTicks: phosTicks, curve: d3.curveLinear,
    left: 534, top: 37, w: 384, h: 465, letterPos: [472, 19], titleX: 489, title: ["Phosphate (", "μ", "M)"] },
  { letter: "C", pts: nitPts, line: nitLine, yDomain: [0, 2.5], yTicks: nitTicks, curve: d3.curveLinear,
    left: 64, top: 601, w: 384, h: 466, letterPos: [6, 584], titleX: 19, title: ["Nitrate (", "μ", "M)"] },
  { letter: "D", pts: chlPts, line: chlLine, yDomain: [0, 100], yTicks: chlTicks, curve: d3.curveLinear,
    left: 547, top: 607, w: 383, h: 466, letterPos: [489, 591], titleX: 491, title: ["Chl (mg C m", "-3", ")"] }
];

panels.forEach((p, i) => {
  const g = svg.append("g").attr("transform", `translate(${p.left},${p.top})`);
  const x = d3.scaleLinear().domain(xDomain).range([0, p.w]);
  const y = d3.scaleLinear().domain(p.yDomain).range([p.h, 0]);
  const yFmt = d => String(+d.toFixed(2));

  const clipId = "clip" + i;
  g.append("clipPath").attr("id", clipId)
    .append("rect").attr("width", p.w).attr("height", p.h);

  // axes, ticks pointing inward on all four sides
  const bottom = g.append("g").attr("transform", `translate(0,${p.h})`)
    .call(d3.axisBottom(x).tickValues(yearTicks).tickFormat(d3.format("d"))
      .tickSizeInner(-14).tickSizeOuter(0).tickPadding(9));
  const top = g.append("g")
    .call(d3.axisTop(x).tickValues(yearTicks).tickFormat("").tickSizeInner(-14).tickSizeOuter(0));
  const leftAx = g.append("g")
    .call(d3.axisLeft(y).tickValues(p.yTicks).tickFormat(yFmt)
      .tickSizeInner(-14).tickSizeOuter(0).tickPadding(8));
  const rightAx = g.append("g").attr("transform", `translate(${p.w},0)`)
    .call(d3.axisRight(y).tickValues(p.yTicks).tickFormat("").tickSizeInner(-14).tickSizeOuter(0));
  [bottom, top, leftAx, rightAx].forEach(a => a.select(".domain").remove());
  // skip ticks that sit on the frame corners
  leftAx.selectAll(".tick line").filter(d => d === p.yDomain[0] || d === p.yDomain[1]).remove();
  rightAx.selectAll(".tick line").filter(d => d === p.yDomain[0] || d === p.yDomain[1]).remove();

  g.append("rect").attr("width", p.w).attr("height", p.h)
    .attr("fill", "none").attr("stroke", "#8a8a8a").attr("stroke-width", 1.6);

  const plot = g.append("g").attr("clip-path", `url(#${clipId})`);

  plot.append("path").datum(p.line)
    .attr("fill", "none").attr("stroke", "#ff4545").attr("stroke-opacity", 0.85)
    .attr("stroke-width", 1.3).attr("stroke-linejoin", "round")
    .attr("d", d3.line().x(d => x(d[0])).y(d => y(d[1])).curve(p.curve));

  g.append("g").selectAll("circle").data(p.pts).join("circle")
    .attr("cx", d => x(d[0])).attr("cy", d => y(d[1])).attr("r", 2.9)
    .attr("fill", "#000");

  // panel letter
  svg.append("text").attr("x", p.letterPos[0]).attr("y", p.letterPos[1])
    .attr("font-size", 19).attr("fill", "#111").text(p.letter);

  // y title, rotated
  const cy = p.top + p.h / 2;
  const t = svg.append("text")
    .attr("transform", `translate(${p.titleX},${cy}) rotate(-90)`)
    .attr("text-anchor", "middle").attr("dy", "0.35em")
    .attr("font-size", 19).attr("fill", "#555");
  if (p.title.length === 1) {
    t.text(p.title[0]);
  } else if (p.letter === "D") {
    t.append("tspan").text(p.title[0]);
    t.append("tspan").attr("font-size", 12).attr("dy", "-0.6em").text(p.title[1]);
    t.append("tspan").attr("dy", "0.45em").text(p.title[2]);
  } else {
    t.append("tspan").text(p.title[0]);
    t.append("tspan").attr("font-style", "italic").text(p.title[1]);
    t.append("tspan").text(p.title[2]);
  }
});
</script>
</body>
</html>
